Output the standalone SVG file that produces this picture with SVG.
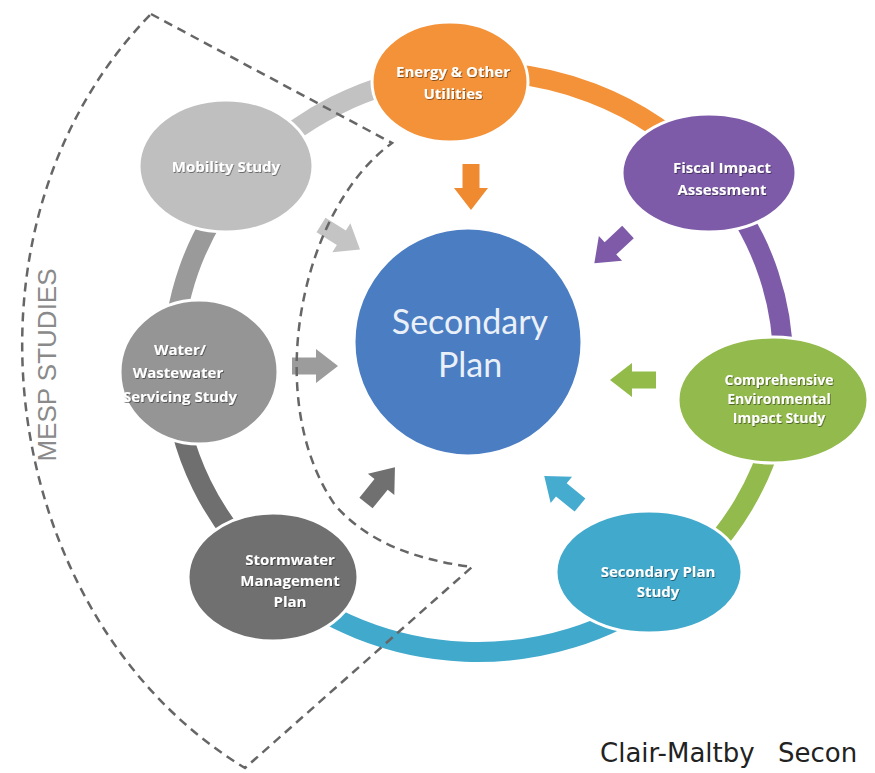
<svg xmlns="http://www.w3.org/2000/svg" xmlns:xlink="http://www.w3.org/1999/xlink" width="875" height="773" viewBox="0 0 875 773">
<style>
.ring{fill:none;stroke-width:20}
.node{stroke:#ffffff;stroke-width:3}
.lbl{font-family:"Open Sans","Liberation Sans",sans-serif;font-weight:bold;font-size:15px;fill:#ffffff;text-anchor:middle;filter:url(#sh)}
.sm{font-size:14px}
.big{font-family:Lato,"Open Sans",sans-serif;font-size:34px;fill:#EAF0F8;text-anchor:middle}
.dash{fill:none;stroke:#666666;stroke-width:2.5;stroke-dasharray:9 6}
</style>
<defs>
<path id="arr" d="M0,-8.5 H24 V-17 L46,0 L24,17 V8.5 H0 Z"/>
<filter id="sh" x="-10%" y="-30%" width="120%" height="160%">
<feDropShadow dx="0.8" dy="1" stdDeviation="0.6" flood-color="#000" flood-opacity="0.45"/>
</filter>
</defs>
<rect width="875" height="773" fill="#ffffff"/>

<g id="connectors">
<path class="ring" stroke="#C2C2C2" d="M241,179.5 A305,290 0 0 1 451.4,73.1"/>
<path class="ring" stroke="#F39238" d="M451.4,73.1 A305,290 0 0 1 708.2,171.7"/>
<path class="ring" stroke="#7D5BA8" d="M708.2,171.7 A305,290 0 0 1 781.3,392.3"/>
<path class="ring" stroke="#93BA4C" d="M781.3,392.3 A305,290 0 0 1 661.5,593.6"/>
<path class="ring" stroke="#41A9CC" d="M661.5,593.6 A305,290 0 0 1 273.9,577.5"/>
<path class="ring" stroke="#6F6F6F" d="M273.9,577.5 A305,290 0 0 1 173.2,372.1"/>
<path class="ring" stroke="#9A9A9A" d="M173.2,372.1 A305,290 0 0 1 241,179.5"/>

<use xlink:href="#arr" fill="#F08A30" transform="translate(471,164) rotate(90)"/>
<use xlink:href="#arr" fill="#7E5AA8" transform="translate(628,232) rotate(137)"/>
<use xlink:href="#arr" fill="#92BB4A" transform="translate(656,380) rotate(180)"/>
<use xlink:href="#arr" fill="#45ACD0" transform="translate(580,505) rotate(219)"/>
<use xlink:href="#arr" fill="#707070" transform="translate(366,503) rotate(-51)"/>
<use xlink:href="#arr" fill="#9C9C9C" transform="translate(292,366) rotate(0)"/>
<use xlink:href="#arr" fill="#C4C4C4" transform="translate(321,225) rotate(32)"/>
</g>

<g id="mesp-boundary">
<path class="dash" d="M151,14 L392,143 C300,210 262,400 335,505 C370,545 420,560 472,567 L245,768 C0,620 -60,230 151,14 Z"/>
<text x="47" y="365" transform="rotate(-90 47 365)" font-family="'Liberation Sans',Arial,sans-serif" font-size="26" fill="#8A8A8A" text-anchor="middle" dominant-baseline="central">MESP STUDIES</text>
</g>

<g id="center">
<circle cx="468" cy="342" r="114" fill="#4A7DC2" stroke="#ffffff" stroke-width="3"/>
<text class="big" x="470" y="334">Secondary</text>
<text class="big" x="470" y="377">Plan</text>
</g>

<g id="energy">
<ellipse class="node" cx="450" cy="82" rx="78" ry="60" fill="#F39238"/>
<text class="lbl" x="453" y="77">Energy &amp; Other</text>
<text class="lbl" x="453" y="99">Utilities</text>
</g>

<g id="fiscal">
<ellipse class="node" cx="709" cy="173" rx="87" ry="59" fill="#7D5BA8"/>
<text class="lbl" x="722" y="173">Fiscal Impact</text>
<text class="lbl" x="722" y="195">Assessment</text>
</g>

<g id="environmental">
<ellipse class="node" cx="773" cy="400" rx="95" ry="63" fill="#93BA4C"/>
<text class="lbl sm" x="779" y="385">Comprehensive</text>
<text class="lbl sm" x="779" y="404">Environmental</text>
<text class="lbl sm" x="779" y="423">Impact Study</text>
</g>

<g id="secondary-plan-study">
<ellipse class="node" cx="649" cy="572" rx="93" ry="61" fill="#41A9CC"/>
<text class="lbl" x="658" y="577">Secondary Plan</text>
<text class="lbl" x="658" y="597">Study</text>
</g>

<g id="stormwater">
<ellipse class="node" cx="273" cy="577" rx="85" ry="64" fill="#707070"/>
<text class="lbl" x="290" y="565">Stormwater</text>
<text class="lbl" x="290" y="586">Management</text>
<text class="lbl" x="290" y="607">Plan</text>
</g>

<g id="water">
<ellipse class="node" cx="199" cy="372" rx="79" ry="72" fill="#959595"/>
<text class="lbl" x="180" y="355">Water/</text>
<text class="lbl" x="178" y="378">Wastewater</text>
<text class="lbl" x="180" y="402">Servicing Study</text>
</g>

<g id="mobility">
<ellipse class="node" cx="226" cy="166" rx="87" ry="66" fill="#BFBFBF"/>
<text class="lbl" x="226" y="172">Mobility Study</text>
</g>

<text x="600" y="762" font-family="'DejaVu Sans',Verdana,sans-serif" font-size="26" fill="#222222">Clair-Maltby<tspan x="778">Secon</tspan></text>
</svg>
